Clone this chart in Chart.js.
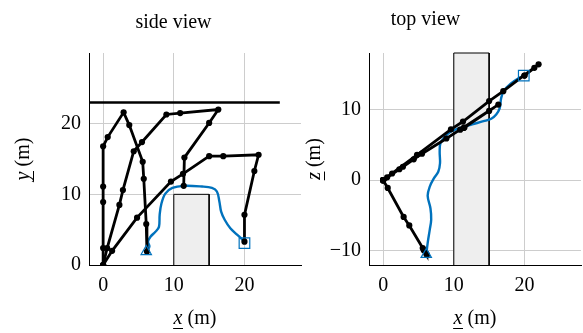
<!DOCTYPE html>
<html>
<head>
<meta charset="utf-8">
<script src="https://cdn.jsdelivr.net/npm/chart.js@4"></script>
<style>
  html, body { margin: 0; background: #fff; }
  #wrap { position: relative; width: 583px; height: 333px; overflow: hidden; }
  #side { position: absolute; left: 0; top: 0; }
  #top { position: absolute; left: 305px; top: 0; }
</style>
</head>
<body>
<div id="wrap">
  <canvas id="side" width="305" height="333"></canvas>
  <canvas id="top" width="278" height="333"></canvas>
</div>
<script>
// ---- ticks ----
const xTicks = [0, 10, 20];
const sideYTicks = [0, 10, 20];
const topZTicks = [-10, 0, 10];

// ---- arm configurations (x, y = height, z = depth) ----
const arm1X = [0, 0, 0, 0, 0, 0.65, 2.9, 3.7, 5.6, 5.75, 6.1, 6.2];
const arm1Y = [0, 2.4, 8.9, 11.1, 16.8, 18.1, 21.6, 19.8, 14.6, 12.2, 5.8, 1.9];
const arm1Z = [0, 0, 0, 0, 0, -1.1, -5.2, -6.4, -9.6, -9.9, -10.4, -10.6];

const arm2X = [0, 0.57, 2.3, 2.8, 4.33, 5.5, 8.95, 10.9, 16.3, 15.0, 11.5, 11.4];
const arm2Y = [0, 2.4, 8.5, 10.6, 16.1, 17.4, 21.3, 21.5, 22.0, 20.1, 15.2, 11.2];
const arm2Z = [0, 0.4, 1.55, 1.9, 2.95, 3.75, 5.9, 7.15, 10.7, 9.8, 7.45, 7.4];

const arm3X = [0, 1.27, 4.8, 9.6, 11.3, 15.0, 17.0, 22.0, 21.4, 20.0, 20.0];
const arm3Y = [0, 2.0, 6.7, 11.8, 12.9, 15.4, 15.4, 15.6, 13.3, 7.1, 3.3];
const arm3Z = [0, 0.95, 3.6, 7.2, 8.3, 11.2, 12.6, 16.4, 15.9, 14.8, 14.8];

// ---- end-effector path ----
const pathSideX = [6.15, 6.55, 6.35, 6.7, 7.4, 7.9, 8.0, 8.25, 8.8, 9.8, 11.4, 14.0, 15.4, 16.1, 16.45, 16.7, 17.2, 18.0, 18.95, 19.75, 20.0];
const pathSideY = [1.9, 2.6, 3.3, 4.0, 4.7, 5.4, 7.1, 8.7, 10.1, 10.9, 11.2, 11.1, 10.9, 10.4, 9.0, 7.55, 6.4, 5.2, 4.3, 3.55, 3.1];

const pathTopX = [6.1, 6.3, 6.6, 6.8, 6.7, 6.3, 6.6, 7.2, 7.8, 8.05, 8.0, 8.1, 8.7, 9.6, 10.9, 12.6, 14.2, 15.3, 16.0, 16.5, 16.7, 17.1, 18.1, 19.1, 19.9];
const pathTopZ = [-10.6, -8.9, -7.0, -5.6, -4.0, -2.2, -0.9, 0.3, 1.2, 2.4, 4.0, 5.2, 6.1, 6.9, 7.4, 7.9, 8.35, 8.7, 9.3, 10.2, 11.6, 12.7, 13.7, 14.4, 14.8];

// start / goal
const startSide = [6.1, 1.9], goalSide = [20.0, 3.1];
const startTop = [6.1, -10.5], goalTop = [19.9, 14.8];

// obstacles
const boxSideX = [10, 10, 15, 15], boxSideY = [0, 10, 10, 0];
const boxTopX = [10, 10, 15, 15], boxTopZ = [-12, 18, 18, -12];
const ceilX = [-2, 25], ceilY = [23, 23];

const BLUE = "#0072BD";
const SERIF = '"Liberation Serif", "Times New Roman", serif';

const pts = (xs, ys) => xs.map((x, i) => ({ x, y: ys[i] }));
const fmt = (v) => (v < 0 ? "\u2212" + Math.abs(v) : String(v));

function drawVarLabel(ctx, v, cx, cy, rot) {
  ctx.save();
  ctx.translate(cx, cy);
  ctx.rotate(rot);
  const it = "italic 20px " + SERIF, up = "20px " + SERIF, rest = " (m)";
  ctx.font = it;
  const w1 = ctx.measureText(v).width;
  ctx.font = up;
  const w2 = ctx.measureText(rest).width;
  const x0 = -(w1 + w2) / 2;
  ctx.textAlign = "left";
  ctx.textBaseline = "alphabetic";
  ctx.font = it;
  ctx.fillText(v, x0, 0);
  ctx.font = up;
  ctx.fillText(rest, x0 + w1, 0);
  ctx.fillRect(x0 - 0.5, 4, w1 + 1, 1);
  ctx.restore();
}

// titles + axis labels (italic variable with underline)
const viewLabels = {
  id: "viewLabels",
  afterDraw(chart, args, o) {
    const { ctx, chartArea: a } = chart;
    ctx.save();
    ctx.fillStyle = "#000";
    ctx.font = "20px " + SERIF;
    ctx.textAlign = "center";
    ctx.textBaseline = "alphabetic";
    ctx.fillText(o.title, o.titleX, o.titleY);
    drawVarLabel(ctx, o.xVar, (a.left + a.right) / 2, o.xLabelY, 0);
    drawVarLabel(ctx, o.yVar, o.yLabelX, (a.top + a.bottom) / 2, -Math.PI / 2);
    ctx.restore();
  },
};

function armSet(data) {
  return {
    data, showLine: true, borderColor: "#000", borderWidth: 2.8,
    pointRadius: 3.1, pointBackgroundColor: "#000", pointBorderWidth: 0, order: 1,
  };
}

function makeView(el, cfg) {
  return new Chart(el, {
    type: "scatter",
    data: { datasets: cfg.datasets },
    options: {
      responsive: false,
      animation: false,
      layout: { autoPadding: false, padding: { top: 53, right: cfg.padRight, left: 0, bottom: 0 } },
      plugins: { legend: { display: false }, tooltip: { enabled: false }, viewLabels: cfg.labels },
      scales: {
        x: {
          type: "linear", min: -2, max: 28,
          afterBuildTicks: (s) => { s.ticks = xTicks.map((v) => ({ value: v })); },
          afterFit: (s) => { s.height = 68; s.paddingLeft = 0; s.paddingRight = 0; },
          grid: { color: "#cdcdcd", drawTicks: false },
          border: { color: "#000", width: 1 },
          ticks: { color: "#000", font: { family: SERIF, size: 20 }, padding: 9, callback: fmt, maxRotation: 0 },
        },
        y: {
          type: "linear", min: cfg.yMin, max: cfg.yMax,
          afterBuildTicks: (s) => { s.ticks = cfg.yTicks.map((v) => ({ value: v })); },
          afterFit: (s) => { s.width = cfg.yWidth; s.paddingTop = 0; s.paddingBottom = 0; },
          grid: { color: "#cdcdcd", drawTicks: false },
          border: { color: "#000", width: 1 },
          ticks: { color: "#000", font: { family: SERIF, size: 20 }, padding: 8, callback: fmt },
        },
      },
    },
    plugins: [viewLabels],
  });
}

const marker = (p, style, r) => ({
  data: [{ x: p[0], y: p[1] }], pointStyle: style, pointRadius: r,
  pointBorderColor: BLUE, pointBackgroundColor: "rgba(0,0,0,0)", pointBorderWidth: 1.2, order: 0,
});

makeView(document.getElementById("side"), {
  yMin: 0, yMax: 30, yTicks: sideYTicks, yWidth: 89, padRight: 4,
  labels: { title: "side view", titleX: 173.5, titleY: 28, xVar: "x", yVar: "y", xLabelY: 324, yLabelX: 29 },
  datasets: [
    { data: pts(boxSideX, boxSideY), showLine: true, fill: "origin", backgroundColor: "#eeeeee",
      borderColor: "#000", borderWidth: 1, pointRadius: 0, tension: 0, order: 5 },
    { data: pts(ceilX, ceilY), showLine: true, borderColor: "#000", borderWidth: 2.6, pointRadius: 0, order: 4 },
    { data: pts(pathSideX, pathSideY), showLine: true, borderColor: BLUE, borderWidth: 2.4, pointRadius: 0, tension: 0.35, order: 3 },
    armSet(pts(arm1X, arm1Y)),
    armSet(pts(arm2X, arm2Y)),
    armSet(pts(arm3X, arm3Y)),
    marker(startSide, "triangle", 6),
    marker(goalSide, "rect", 7.5),
  ],
});

makeView(document.getElementById("top"), {
  yMin: -12, yMax: 18, yTicks: topZTicks, yWidth: 64, padRight: 2,
  labels: { title: "top view", titleX: 120.5, titleY: 25, xVar: "x", yVar: "z", xLabelY: 324, yLabelX: 15 },
  datasets: [
    { data: pts(boxTopX, boxTopZ), showLine: true, fill: "start", backgroundColor: "#eeeeee",
      borderColor: "#000", borderWidth: 1, pointRadius: 0, tension: 0, order: 5, clip: 2 },
    { data: pts(pathTopX, pathTopZ), showLine: true, borderColor: BLUE, borderWidth: 2.4, pointRadius: 0, tension: 0.35, order: 3 },
    armSet(pts(arm1X, arm1Z)),
    armSet(pts(arm2X, arm2Z)),
    armSet(pts(arm3X, arm3Z)),
    marker(startTop, "triangle", 6),
    marker(goalTop, "rect", 7.5),
  ],
});
</script>
</body>
</html>
